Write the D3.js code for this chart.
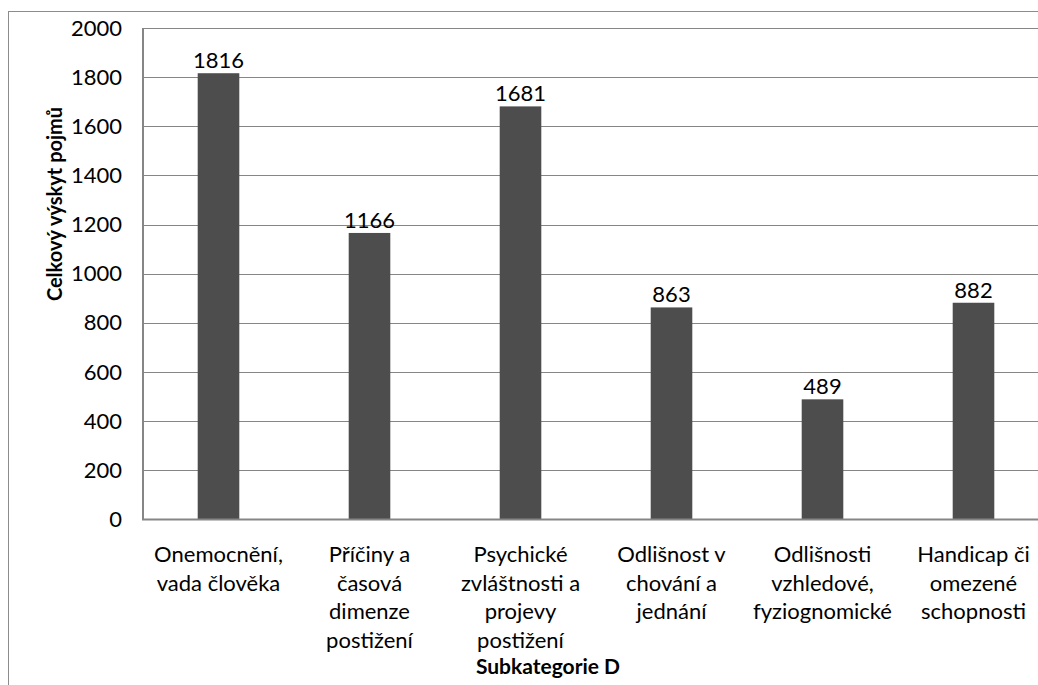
<!DOCTYPE html>
<html>
<head>
<meta charset="utf-8">
<script src="https://cdn.jsdelivr.net/npm/d3@7"></script>
<style>
  html, body { margin: 0; padding: 0; background: #fff; }
  svg { display: block; }
  text { font-family: Lato, "Open Sans", sans-serif; fill: #000; }
</style>
</head>
<body>
<svg id="chart" width="1038" height="685"></svg>
<script>
// ---- data ----
const categories = [
  "Onemocnění, vada člověka",
  "Příčiny a časová dimenze postižení",
  "Psychické zvláštnosti a projevy postižení",
  "Odlišnost v chování a jednání",
  "Odlišnosti vzhledové, fyziognomické",
  "Handicap či omezené schopnosti"
];
const categoryLines = [
  ["Onemocnění,", "vada člověka"],
  ["Příčiny a", "časová", "dimenze", "postižení"],
  ["Psychické", "zvláštnosti a", "projevy", "postižení"],
  ["Odlišnost v", "chování a", "jednání"],
  ["Odlišnosti", "vzhledové,", "fyziognomické"],
  ["Handicap či", "omezené", "schopnosti"]
];
const values = [1816, 1166, 1681, 863, 489, 882];
const yTicks = [0, 200, 400, 600, 800, 1000, 1200, 1400, 1600, 1800, 2000];
const yTitle = "Celkový výskyt pojmů";
const xTitle = "Subkategorie D";

// ---- layout ----
const svg = d3.select("#chart");
const W = 1038, H = 685;
const plot = { left: 143, right: 1049, top: 28, bottom: 519.5 };

svg.append("rect").attr("x", 0).attr("y", 0).attr("width", W).attr("height", H).attr("fill", "#fff");
// outer chart border (extends beyond the visible area)
svg.append("rect")
  .attr("x", 8.5).attr("y", 11.5).attr("width", 1100).attr("height", 700)
  .attr("fill", "none").attr("stroke", "#8c8c8c").attr("stroke-width", 1);

const x = d3.scaleBand().domain(categories).range([plot.left, plot.right])
  .paddingInner(0.7245).paddingOuter(0.36225);
const y = d3.scaleLinear().domain([0, 2000]).range([plot.bottom, plot.top]);

// gridlines
svg.append("g").selectAll("line").data(yTicks.filter(d => d > 0)).join("line")
  .attr("x1", plot.left).attr("x2", plot.right)
  .attr("y1", d => Math.round(y(d)) + 0.5).attr("y2", d => Math.round(y(d)) + 0.5)
  .attr("stroke", "#868686").attr("stroke-width", 1);

// y axis labels
const yAxis = d3.axisLeft(y).tickValues(yTicks).tickSize(0).tickPadding(21).tickFormat(d3.format("d"));
const gy = svg.append("g").attr("transform", `translate(${plot.left},0)`).call(yAxis);
gy.select(".domain").remove();
gy.selectAll("text").style("font-family", "Lato, sans-serif").style("font-size", "22px").attr("fill", "#000");

// bars
svg.append("g").selectAll("rect").data(values).join("rect")
  .attr("x", (d, i) => x(categories[i]))
  .attr("width", x.bandwidth())
  .attr("y", d => y(d))
  .attr("height", d => y(0) - y(d))
  .attr("fill", "#4d4d4d");

// value labels
svg.append("g").selectAll("text").data(values).join("text")
  .attr("x", (d, i) => x(categories[i]) + x.bandwidth() / 2)
  .attr("y", d => y(d) - 5)
  .attr("text-anchor", "middle")
  .style("font-size", "22px")
  .text(d => d);

// axis lines
svg.append("line").attr("x1", plot.left).attr("x2", plot.left)
  .attr("y1", plot.top).attr("y2", plot.bottom)
  .attr("stroke", "#868686").attr("stroke-width", 2);
svg.append("line").attr("x1", plot.left - 1).attr("x2", plot.right)
  .attr("y1", plot.bottom).attr("y2", plot.bottom)
  .attr("stroke", "#868686").attr("stroke-width", 2);

// category labels
const xl = svg.append("g");
categories.forEach((c, i) => {
  const t = xl.append("text")
    .attr("x", x(c) + x.bandwidth() / 2)
    .attr("y", 562)
    .attr("text-anchor", "middle")
    .style("font-size", "22px");
  categoryLines[i].forEach((line, j) => {
    t.append("tspan").attr("x", x(c) + x.bandwidth() / 2).attr("dy", j === 0 ? 0 : 28.5).text(line);
  });
});

// axis titles
svg.append("text")
  .attr("transform", `translate(62,204) rotate(-90)`)
  .attr("text-anchor", "middle")
  .style("font-size", "20px").style("font-weight", "bold")
  .text(yTitle);
svg.append("text")
  .attr("x", 548).attr("y", 674)
  .attr("text-anchor", "middle")
  .style("font-size", "21px").style("font-weight", "bold")
  .text(xTitle);
</script>
</body>
</html>
